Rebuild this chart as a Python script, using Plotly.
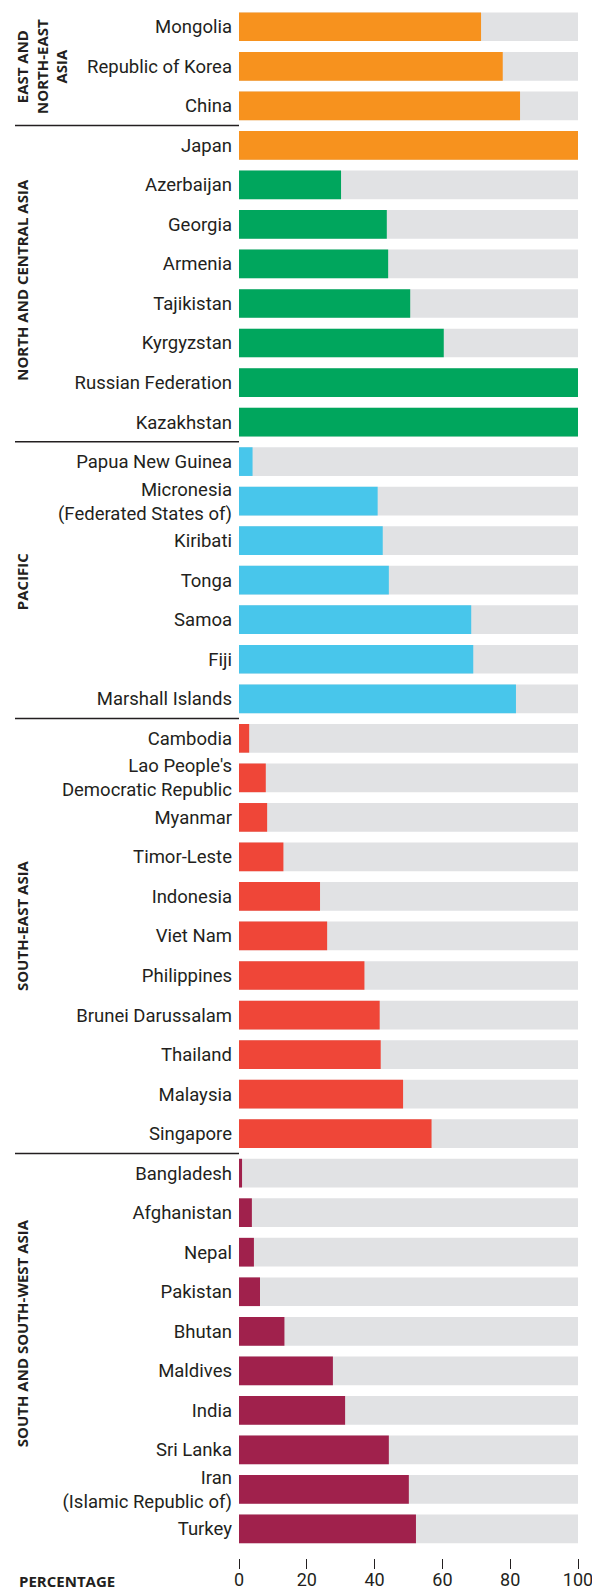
import plotly.graph_objects as go

countries = [
    "Mongolia", "Republic of Korea", "China", "Japan",
    "Azerbaijan", "Georgia", "Armenia", "Tajikistan", "Kyrgyzstan", "Russian Federation", "Kazakhstan",
    "Papua New Guinea", "Micronesia<br>(Federated States of)", "Kiribati", "Tonga", "Samoa", "Fiji", "Marshall Islands",
    "Cambodia", "Lao People's<br>Democratic Republic", "Myanmar", "Timor-Leste", "Indonesia", "Viet Nam",
    "Philippines", "Brunei Darussalam", "Thailand", "Malaysia", "Singapore",
    "Bangladesh", "Afghanistan", "Nepal", "Pakistan", "Bhutan", "Maldives", "India", "Sri Lanka",
    "Iran<br>(Islamic Republic of)", "Turkey",
]
values = [
    71.4, 77.8, 82.9, 100,
    30.1, 43.6, 44.0, 50.5, 60.4, 100, 100,
    4.0, 40.9, 42.4, 44.2, 68.5, 69.1, 81.7,
    3.0, 7.9, 8.3, 13.1, 23.9, 26.0, 37.0, 41.5, 41.8, 48.4, 56.8,
    0.9, 3.8, 4.4, 6.2, 13.4, 27.7, 31.3, 44.2, 50.1, 52.2,
]
bar_colors = (
    ["#F7921E"] * 4 + ["#00A65D"] * 7 + ["#48C6EB"] * 7 + ["#EF4638"] * 11 + ["#A0214C"] * 10
)
# group labels: (text, first row, last row, offset in rows)
groups = [
    ("EAST AND<br>NORTH-EAST<br>ASIA", 0, 2, 0.0),
    ("NORTH AND CENTRAL ASIA", 3, 10, -0.1),
    ("PACIFIC", 11, 17, 0.05),
    ("SOUTH-EAST ASIA", 18, 28, -0.25),
    ("SOUTH AND SOUTH-WEST ASIA", 29, 38, -0.45),
]
x_ticks = [0, 20, 40, 60, 80, 100]
full_scale = [100] * len(countries)

TEXT = "#231F20"
fig = go.Figure()
fig.add_trace(go.Bar(y=countries, x=full_scale, orientation="h", marker_color="#E1E2E4",
                     marker_line_width=0, hoverinfo="skip", showlegend=False))
fig.add_trace(go.Bar(y=countries, x=values, orientation="h", marker_color=bar_colors,
                     marker_line_width=0, showlegend=False))

n = len(countries)
for i, (txt, a, b, off) in enumerate(groups):
    if i > 0:
        fig.add_shape(type="line", xref="paper", xsizemode="pixel", xanchor=0, x0=-224, x1=0,
                      yref="y", y0=a - 0.5, y1=a - 0.5, line=dict(color=TEXT, width=1.5))
    center = (a + b) / 2 + off
    xc = 41.7 if "<br>" in txt else 22
    fig.add_annotation(text=txt, xref="paper", x=0, xshift=xc - 239, xanchor="center",
                       yref="y", y=center, yanchor="middle", textangle=-90, showarrow=False,
                       align="center", font=dict(family="Open Sans", size=15, color=TEXT, weight="bold"))

fig.add_annotation(text="PERCENTAGE", xref="paper", x=0, xshift=17 - 239, xanchor="left",
                   yref="paper", y=0, yshift=-23, yanchor="middle", showarrow=False,
                   font=dict(family="Open Sans", size=15, color=TEXT, weight="bold"))

fig.update_layout(
    width=592, height=1591,
    margin=dict(l=239, r=14, t=7, b=33, autoexpand=False),
    paper_bgcolor="white", plot_bgcolor="white",
    barmode="overlay", bargap=0.274,
    font=dict(family="Roboto", size=18.5, color=TEXT),
    xaxis=dict(range=[0, 100], tickvals=x_ticks, ticks="outside", ticklen=10, tickwidth=1,
               tickcolor=TEXT, showgrid=False, zeroline=False, showline=False, automargin=False,
               anchor="free", position=0, tickfont=dict(size=18), ticklabeloverflow="allow",
               ticklabelstandoff=-5),
    yaxis=dict(categoryorder="array", categoryarray=countries, range=[n - 0.5, -0.5],
               domain=[0.006, 1], showgrid=False, zeroline=False, showline=False, ticks="",
               automargin=False, ticklabelstandoff=6, tickfont=dict(size=18.5)),
)
fig.write_html("out.html", config={"displayModeBar": False},
               post_script="document.body.style.margin='0';")
